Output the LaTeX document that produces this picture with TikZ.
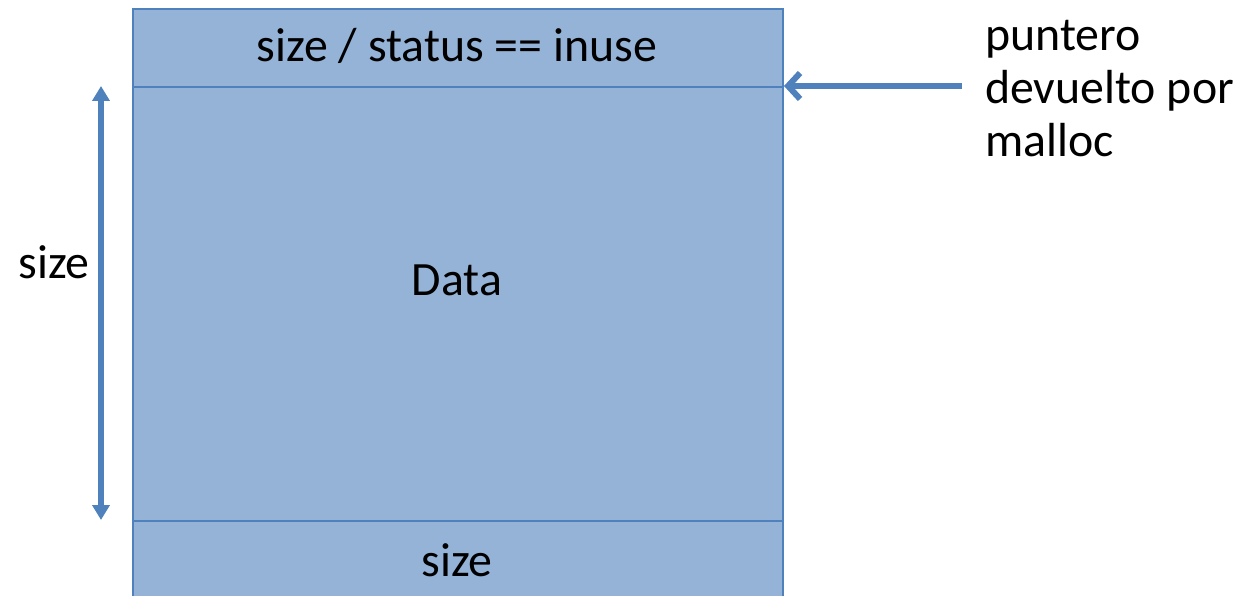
\documentclass[tikz,border=0pt]{standalone}
\usepackage{fontspec}
\setmainfont{Carlito}
\usetikzlibrary{arrows.meta,positioning}
\definecolor{boxfill}{HTML}{95B3D7}
\definecolor{boxline}{HTML}{4F81BD}
\tikzset{
  part/.style={draw=boxline, fill=boxfill, line width=2bp, minimum width=650bp, inner sep=0pt, anchor=north west},
  lbl/.style={font=\fontsize{48}{53.5}\selectfont, inner sep=0pt},
  blue arrow/.style={draw=boxline, line width=6bp}
}
\begin{document}
\begin{tikzpicture}[x=1bp,y=-1bp]
\useasboundingbox (0,0) rectangle (1245,596);
\begin{scope}
\clip (0,0) rectangle (1245,596);
\node[part, minimum height=78bp] (hdr) at (132,8) {};
\node[part, minimum height=434bp] (data) at (132,86) {};
\node[part, minimum height=110bp] (ftr) at (132,520) {};
\node[lbl, anchor=base] (hdrlbl) at (457,62) {size / status == inuse};
\node[lbl] (datalbl) at (457,280) {Data};
\node[lbl] (ftrlbl) at (457,560) {size};
\end{scope}
\coordinate (atop) at (101,86);
\coordinate (abot) at (101,520);
\draw[blue arrow, {Triangle[length=15bp,width=17bp]}-{Triangle[length=15bp,width=17bp]}] (atop) -- (abot);
\node[lbl] (sizelbl) at (54,262) {size};
\node[lbl, anchor=base west, align=left] (ptr) at (985,157) {puntero\\devuelto por\\malloc};
\coordinate (pstart) at (962,86);
\coordinate (pend) at (784,86);
\draw[blue arrow, -{Straight Barb[length=12bp,width=26bp]}] (pstart) -- (pend);
\end{tikzpicture}
\end{document}
